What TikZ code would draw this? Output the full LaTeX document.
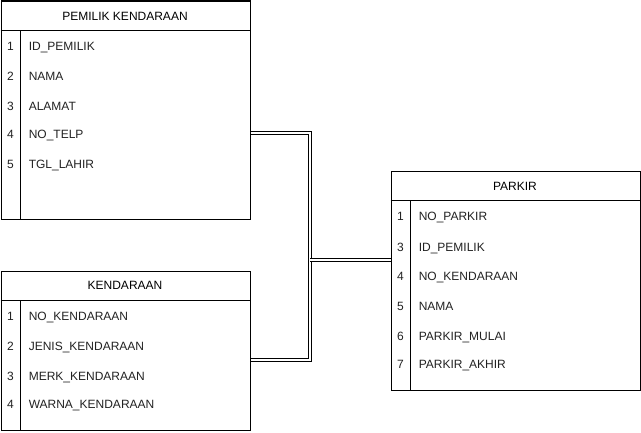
\documentclass[tikz,border=0pt]{standalone}
\usepackage{fontspec}
\setmainfont{Liberation Sans}
\usetikzlibrary{calc}
\definecolor{rowtext}{HTML}{222222}
\tikzset{
  tbl/.style={draw=black, line width=0.75pt, fill=white, inner sep=0pt, anchor=north west},
  sep/.style={draw=black, line width=0.75pt},
  hdr/.style={font=\fontsize{9pt}{10pt}\selectfont, text=black, inner sep=0pt, anchor=base},
  num/.style={font=\fontsize{9pt}{10pt}\selectfont, text=rowtext, inner sep=0pt, anchor=base},
  fld/.style={font=\fontsize{9pt}{10pt}\selectfont, text=rowtext, inner sep=0pt, anchor=base west},
  rel/.style={draw=black, line width=0.75pt, double=white, double distance=1.8pt}
}
\begin{document}
\begin{tikzpicture}[x=0.75pt,y=-0.75pt]
\useasboundingbox (0,0) rectangle (641,432);
% tables
\node[tbl, minimum width=186.75pt, minimum height=163.5pt] (t1) at (0.5,0.5) {};
\node[tbl, minimum width=186.75pt, minimum height=119.25pt] (t2) at (0.5,270.5) {};
\node[tbl, minimum width=186.75pt, minimum height=164.25pt] (t3) at (390.5,170.5) {};
% header separators and column dividers
\draw[sep] (0.5,30.5) -- (250,30.5);
\draw[sep] (20.5,30.5) -- (t1.south -| 20.5,0);
\draw[sep] (0.5,300.5) -- (250,300.5);
\draw[sep] (20.5,300.5) -- (t2.south -| 20.5,0);
\draw[sep] (390.5,200.5) -- (640,200.5);
\draw[sep] (410.5,200.5) -- (t3.south -| 410.5,0);
% headers (baselines)
\node[hdr] (h1) at (125,20) {PEMILIK KENDARAAN};
\node[hdr] (h2) at (125,289.5) {KENDARAAN};
\node[hdr] (h3) at (515,190.5) {PARKIR};
% table 1 rows
\foreach \n/\t/\y [count=\i] in {1/ID\_PEMILIK/50,2/NAMA/80.5,3/ALAMAT/110,4/NO\_TELP/138.5,5/TGL\_LAHIR/168}{
  \node[num] (n1\i) at (10.5,\y) {\n};
  \node[fld] (r1\i) at (28.5,\y) {\t};
}
% table 2 rows
\foreach \n/\t/\y [count=\i] in {1/NO\_KENDARAAN/320,2/JENIS\_KENDARAAN/350,3/MERK\_KENDARAAN/380,4/WARNA\_KENDARAAN/408.5}{
  \node[num] (n2\i) at (10.5,\y) {\n};
  \node[fld] (r2\i) at (28.5,\y) {\t};
}
% table 3 rows
\foreach \n/\t/\y [count=\i] in {1/NO\_PARKIR/220.5,3/ID\_PEMILIK/251,4/NO\_KENDARAAN/280.5,5/NAMA/310,6/PARKIR\_MULAI/340,7/PARKIR\_AKHIR/368.5}{
  \node[num] (n3\i) at (400.5,\y) {\n};
  \node[fld] (r3\i) at (418.5,\y) {\t};
}
% connectors
\coordinate (a1) at (250,133);
\coordinate (a2) at (250,360);
\coordinate (j) at (310,260);
\coordinate (b3) at (390.5,260);
\draw[rel] (t1.east |- a1) -- (310,133) -- (310,360) -- (t2.east |- a2);
\draw[rel] (j) -- (t3.west |- b3);
\end{tikzpicture}
\end{document}
